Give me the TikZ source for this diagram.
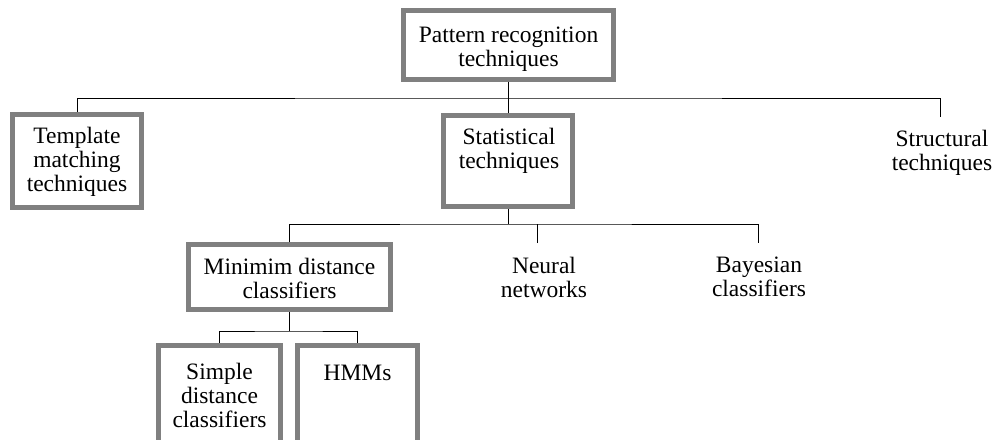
\documentclass[tikz,border=0pt]{standalone}
\usepackage{fontspec}
\setmainfont{Liberation Serif}
\definecolor{framegray}{RGB}{128,128,128}
\begin{document}
\begin{tikzpicture}[x=1pt,y=-1pt,
  frame/.style={draw=framegray, line width=5pt, rectangle, inner sep=0pt, fill=white},
  caption/.style={align=center, inner sep=0pt, font=\fontsize{23.5}{24}\selectfont},
  link/.style={draw=black, line width=0.9pt}]
  \useasboundingbox (0,0) rectangle (995,439);
  \clip (0,0) rectangle (995,439);

  % framed boxes (outer size minus the frame width)
  \node[frame, minimum width=210pt, minimum height=69pt] (root) at (508,45) {};
  \node[frame, minimum width=129pt, minimum height=93pt] (tmpl) at (77,161) {};
  \node[frame, minimum width=129pt, minimum height=91pt] (stat) at (508,161) {};
  \node[frame, minimum width=202pt, minimum height=65pt] (mind) at (289,277) {};
  \node[frame, minimum width=122pt, minimum height=130pt] (simp) at (219.5,410) {};
  \node[frame, minimum width=120pt, minimum height=130pt] (hmm) at (357.5,410) {};

  % texts
  \node[caption] (root-t) at (508.5,49) {Pattern recognition\\techniques};
  \node[caption] (tmpl-t) at (77,162) {Template\\matching\\techniques};
  \node[caption] (stat-t) at (509,151) {Statistical\\techniques};
  \node[caption] (stru-t) at (942,153) {Structural\\techniques};
  \node[caption] (mind-t) at (289.5,278) {Minimim distance\\classifiers};
  \node[caption] (neur-t) at (544,277) {Neural\\networks};
  \node[caption] (baye-t) at (759,277) {Bayesian\\classifiers};
  \node[caption] (simp-t) at (219.5,395) {Simple\\distance\\classifiers};
  \node[caption] (hmm-t) at (357.5,373) {HMMs};

  % bus points and free ends of connectors
  \coordinate (bus1) at (508,98);
  \coordinate (bus2) at (508,224);
  \coordinate (bus3) at (289,331);
  \coordinate (stru-e) at (940,117);
  \coordinate (neur-e) at (537,243);
  \coordinate (baye-e) at (758,243);

  % first level
  \draw[link] (root.south) -- (bus1);
  \draw[link] (tmpl.north) |- (bus1) -| (stru-e);
  \draw[link] (stat.north) -- (stat.north |- bus1);

  % second level
  \draw[link] (stat.south) -- (bus2);
  \draw[link] (mind.north) |- (bus2) -| (baye-e);
  \draw[link] (neur-e) -- (neur-e |- bus2);

  % third level
  \draw[link] (mind.south) -- (bus3);
  \draw[link] (simp.north) |- (bus3) -| (hmm.north);
\end{tikzpicture}
\end{document}
